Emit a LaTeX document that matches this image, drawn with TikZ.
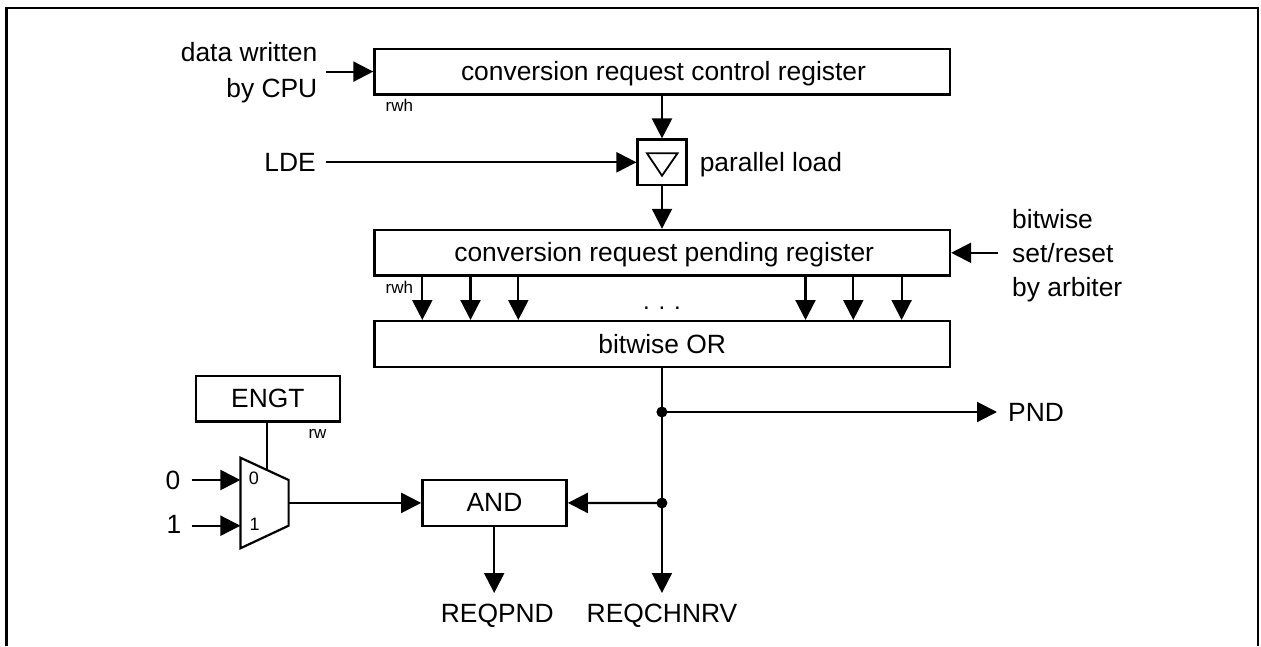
\documentclass[tikz,border=0pt]{standalone}
\usepackage{fontspec}
\setmainfont{Liberation Sans}
\usetikzlibrary{arrows.meta,calc}
\newcommand{\txtbig}{\fontsize{26.4}{34}\selectfont}
\newcommand{\txtdots}{\fontsize{24}{34}\selectfont}
\newcommand{\txtsmall}{\fontsize{17}{18}\selectfont}
\newcommand{\txtmux}{\fontsize{18}{20}\selectfont}
\tikzset{
  x=1pt,y=-1pt,
  regbox/.style={draw,line width=2.4pt,inner sep=0pt,minimum width=575.5pt,minimum height=45.6pt},
  smallbox/.style={draw,line width=2.4pt,inner sep=0pt},
  wire/.style={line width=2.2pt},
  sig/.style={wire,-{Triangle[length=20pt,width=20pt]}},
  lbl/.style={inner sep=0pt,font=\txtbig},
  tag/.style={inner sep=0pt,font=\txtsmall},
  muxtag/.style={inner sep=0pt,font=\txtmux},
  junction/.style={circle,fill=black,inner sep=0pt,minimum size=11pt},
}
\begin{document}
\begin{tikzpicture}
\useasboundingbox (0,0) rectangle (1261,646);
% frame
\coordinate (fbl) at (6.5,646);
\coordinate (ftl) at (6.5,8);
\coordinate (ftr) at (1258,8);
\coordinate (fbr) at (1258,646);
\draw[line width=2.8pt] (fbl) -- (ftl) -- (ftr) -- (fbr);
% registers
\node[regbox] (ctrl) at (662.2,71.6) {};
\node[lbl] (ctrlt) at (663.5,74) {conversion request control register};
\node[regbox] (pend) at (662.2,252.8) {};
\node[lbl] (pendt) at (664.2,255) {conversion request pending register};
\node[regbox] (orbox) at (662.2,344) {};
\node[lbl] (ort) at (662.2,344) {bitwise OR};
\node[smallbox,minimum width=48.7pt,minimum height=45.4pt] (load) at (662,162.3) {};
\coordinate (trA) at (647,153.3);
\coordinate (trB) at (677.5,153.3);
\coordinate (trC) at (662,175.7);
\draw[line width=1.8pt,line join=miter] (trA) -- (trB) -- (trC) -- cycle;
\node[smallbox,minimum width=144.3pt,minimum height=45.6pt,font=\txtbig] (engt) at (267.9,398.5) {ENGT};
\node[smallbox,minimum width=144.3pt,minimum height=45.6pt,font=\txtbig] (andb) at (494.5,502.9) {AND};
% labels
\node[lbl,align=right,anchor=east] (cpu) at (317.5,73) {data written\\[2pt]by CPU};
\node[lbl,anchor=east] (lde) at (316,162.3) {LDE};
\node[lbl,anchor=west] (pl) at (699.6,165) {parallel load};
\node[lbl,align=left,anchor=west] (arb) at (1012,255.5) {bitwise\\set/reset\\by arbiter};
\node[lbl,anchor=west] (pnd) at (1008,412) {PND};
\node[lbl] (rp) at (497.3,616) {REQPND};
\node[lbl] (rc) at (662,616) {REQCHNRV};
\node[lbl] (zero) at (173,480) {0};
\node[lbl] (one) at (174,524) {1};
\node[tag] (rwha) at (399.3,105.5) {rwh};
\node[tag] (rwhb) at (399.3,287) {rwh};
\node[tag] (rwc) at (317.5,434) {rw};
\node[inner sep=0pt,font=\txtdots] (dots) at (662,308) {. . .};
% top connectors
\coordinate (cpuout) at (326,71.6);
\coordinate (ldeout) at (326,162.3);
\coordinate (arbout) at (998,252.8);
\draw[sig] (cpuout) -- (ctrl.west);
\draw[sig] (ldeout) -- (load.west);
\draw[sig] (ctrl.south -| load.north) -- (load.north);
\draw[sig] (load.south) -- (pend.north -| load.south);
\draw[sig] (arbout) -- (pend.east);
% bit arrows
\foreach \n/\x in {a/422.3,b/470.5,c/518.3,d/805.5,e/853.3,f/901.6}{
  \coordinate (t\n) at (\x,252.8);
  \draw[sig] (t\n |- pend.south) -- (t\n |- orbox.north);
}
% bus
\coordinate (busx) at (661.9,0);
\coordinate (j1) at (661.9,412);
\coordinate (j2) at (661.9,503);
\coordinate (busend) at (661.9,593);
\draw[sig] (orbox.south -| busx) -- (busend);
\node[junction] (d1) at (j1) {};
\node[junction] (d2) at (j2) {};
\coordinate (pndtip) at (997,412);
\draw[sig] (d1.center) -- (pndtip);
\draw[sig] (d2.center) -- (andb.east);
% multiplexer
\coordinate (m1) at (240.4,457.7);
\coordinate (m2) at (288.6,480);
\coordinate (m3) at (288.6,525.7);
\coordinate (m4) at (240.4,548.3);
\draw[line width=2.2pt,line join=miter] (m1) -- (m2) -- (m3) -- (m4) -- cycle;
\node[muxtag] (mz) at (254,478) {0};
\node[muxtag] (mo) at (254.6,524) {1};
\coordinate (sel) at (266.9,470);
\draw[wire] (sel |- engt.south) -- (sel);
\coordinate (in0) at (191.7,480);
\coordinate (in1) at (191.7,525.7);
\coordinate (m0) at (240.4,480);
\coordinate (mi1) at (240.4,525.7);
\draw[sig] (in0) -- (m0);
\draw[sig] (in1) -- (mi1);
\coordinate (mout) at (288.6,502.9);
\draw[sig] (mout) -- (andb.west);
\coordinate (andout) at (494.2,593);
\draw[sig] (andb.south -| andout) -- (andout);
\end{tikzpicture}
\end{document}
